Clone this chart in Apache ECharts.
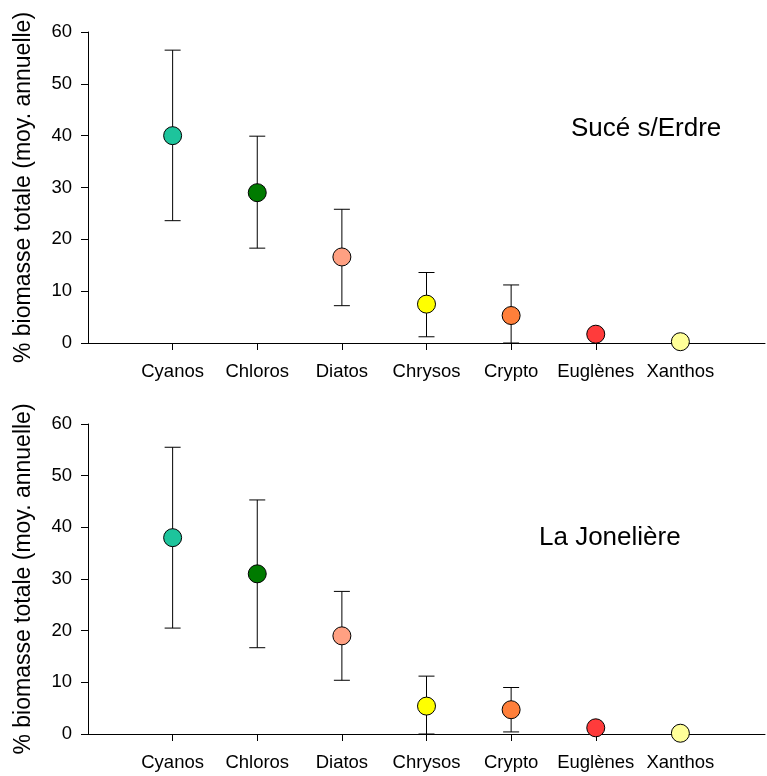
<!DOCTYPE html>
<html>
<head>
<meta charset="utf-8">
<script src="https://cdn.jsdelivr.net/npm/echarts@6/dist/echarts.min.js"></script>
<style>html,body{margin:0;padding:0;background:#fff;}#c{width:767px;height:776px;}</style>
</head>
<body>
<div id="c"></div>
<script>
const categories = ['Cyanos', 'Chloros', 'Diatos', 'Chrysos', 'Crypto', 'Euglènes', 'Xanthos'];
const pointColors = ['#1DC49C', '#007A00', '#FFA082', '#FFFF00', '#FF7F3A', '#FF3B3B', '#FFFF99'];
const yTicks = [0, 10, 20, 30, 40, 50, 60];

const suceMean  = [40.0, 29.0, 16.6, 7.5, 5.3, 1.7, 0.25];
const suceUpper = [56.5, 39.9, 25.8, 13.6, 11.2, null, null];
const suceLower = [23.6, 18.3, 7.2, 1.2, 0.0, null, null];

const jonMean  = [38.0, 31.0, 19.0, 5.4, 4.7, 1.2, 0.15];
const jonUpper = [55.5, 45.3, 27.6, 11.2, 9.0, null, null];
const jonLower = [20.5, 16.7, 10.4, 0.0, 0.4, null, null];

const siteNames = ['Sucé s/Erdre', 'La Jonelière'];
const yTitle = '% biomasse totale (moy. annuelle)';

const FONT = '"Liberation Sans", Arial, sans-serif';
const chart = echarts.init(document.getElementById('c'), null, {renderer: 'canvas'});

const grids = [
  {left: 88, top: 32, right: 2, height: 311},
  {left: 88, top: 424, right: 2, height: 310}
];

function xAxis(gi) {
  return {
    type: 'value', gridIndex: gi, min: 0, max: categories.length + 1, interval: 1,
    axisLine: {show: true, lineStyle: {color: '#000', width: 1}},
    axisTick: {show: true, length: 7, lineStyle: {color: '#000'}, customValues: categories.map((c, i) => i + 1)},
    axisLabel: {show: true, color: '#000', fontSize: 18.5, fontFamily: FONT, margin: 19,
      customValues: categories.map((c, i) => i + 1),
      formatter: v => categories[v - 1] || ''},
    splitLine: {show: false}
  };
}
function yAxis(gi) {
  return {
    type: 'value', gridIndex: gi, min: 0, max: yTicks[yTicks.length - 1], interval: yTicks[1] - yTicks[0],
    name: yTitle, nameLocation: 'middle', nameGap: 53,
    nameTextStyle: {color: '#000', fontSize: 23, fontFamily: FONT},
    axisLine: {show: true, lineStyle: {color: '#000', width: 1}},
    axisTick: {show: true, length: 7, inside: false, lineStyle: {color: '#000'}},
    axisLabel: {show: true, color: '#000', fontSize: 18.5, fontFamily: FONT, margin: 16},
    splitLine: {show: false}
  };
}

function errData(lower, upper) {
  const out = [];
  for (let i = 0; i < categories.length; i++) {
    if (lower[i] != null && upper[i] != null) out.push([i + 1, lower[i], upper[i]]);
  }
  return out;
}
function ptData(mean) {
  return mean.map((v, i) => ({value: [i + 1, v], itemStyle: {color: pointColors[i]}}));
}
function renderErr(params, api) {
  const x = api.value(0), lo = api.value(1), hi = api.value(2);
  const pTop = api.coord([x, hi]);
  const pBot = api.coord([x, lo]);
  const w = 8;
  const st = {stroke: '#000', lineWidth: 1};
  return {type: 'group', children: [
    {type: 'line', shape: {x1: pTop[0], y1: pTop[1], x2: pBot[0], y2: pBot[1]}, style: st},
    {type: 'line', shape: {x1: pTop[0] - w, y1: pTop[1], x2: pTop[0] + w, y2: pTop[1]}, style: st},
    {type: 'line', shape: {x1: pBot[0] - w, y1: pBot[1], x2: pBot[0] + w, y2: pBot[1]}, style: st}
  ]};
}

const means = [suceMean, jonMean];
const lowers = [suceLower, jonLower];
const uppers = [suceUpper, jonUpper];
const series = [];
for (let g = 0; g < 2; g++) {
  series.push({
    type: 'custom', xAxisIndex: g, yAxisIndex: g, renderItem: renderErr,
    encode: {x: 0, y: [1, 2]}, data: errData(lowers[g], uppers[g]), z: 2, silent: true
  });
  series.push({
    type: 'scatter', xAxisIndex: g, yAxisIndex: g, symbol: 'circle', symbolSize: 18,
    itemStyle: {borderColor: '#000', borderWidth: 1, opacity: 1},
    data: ptData(means[g]), z: 3, silent: true
  });
}

chart.setOption({
  animation: false,
  backgroundColor: '#fff',
  grid: grids,
  xAxis: [xAxis(0), xAxis(1)],
  yAxis: [yAxis(0), yAxis(1)],
  graphic: [
    {type: 'text', left: 571, top: 116, style: {text: siteNames[0], fontSize: 26, fontFamily: FONT, fill: '#000'}},
    {type: 'text', left: 539, top: 525, style: {text: siteNames[1], fontSize: 26, fontFamily: FONT, fill: '#000'}}
  ],
  series: series
});
</script>
</body>
</html>
